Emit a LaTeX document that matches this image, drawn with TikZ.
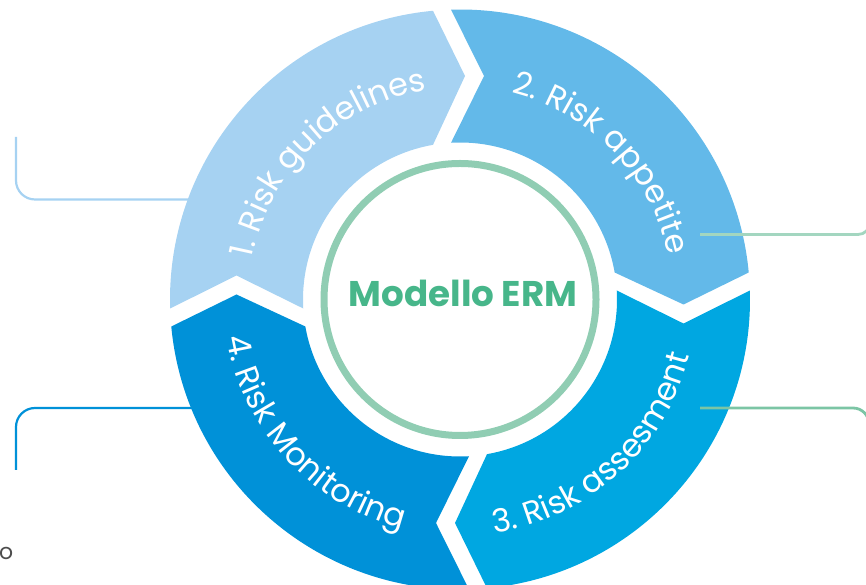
\documentclass[tikz,border=0pt]{standalone}
\usepackage{fontspec}
\setmainfont{Poppins}
\usetikzlibrary{decorations.text}
\definecolor{segA}{HTML}{A6D2F2}
\definecolor{segB}{HTML}{63B9E9}
\definecolor{segC}{HTML}{00A7E1}
\definecolor{segD}{HTML}{0091D8}
\definecolor{ringc}{HTML}{90CDB3}
\definecolor{titlec}{HTML}{47B68A}
\definecolor{lineRa}{HTML}{A3D6C0}
\definecolor{lineRb}{HTML}{7CC5A5}
\definecolor{fragc}{HTML}{4D4D4D}
\newcommand\segfont{\fontsize{32}{34}\selectfont}
\tikzset{
  seg/.pic={
    \path[pic actions] ({180+asin(9/290)}:290)
      arc[start angle={180+asin(9/290)}, end angle={90+asin(27/290)}, radius=290]
      -- (5,223.5) -- ({90+asin(27/157)}:157)
      arc[start angle={90+asin(27/157)}, end angle={180+asin(9/157)}, radius=157]
      -- (-223.5,24) -- cycle;
  },
  connL/.style={line width=2.2, rounded corners=19},
  connR/.style={line width=2.8},
  seglabel/.style={decorate, decoration={text along path, text align=center, text color=white}}
}
\begin{document}
\begin{tikzpicture}[x=1pt,y=1pt]
\useasboundingbox (0,0) rectangle (866,585);
\clip (0,0) rectangle (866,585);
\coordinate (C) at (460,285.5);

% left connectors (under the ring)
\coordinate (l1a) at (200,385.5);
\coordinate (l1b) at (16,448);
\draw[connL, segA] (l1a) -| (l1b);
\coordinate (l4a) at (200,177);
\coordinate (l4b) at (16,115);
\draw[connL, segD] (l4a) -| (l4b);

% ring segments
\pic[fill=segA] at (C) {seg};
\pic[fill=segB, rotate=-90] at (C) {seg};
\pic[fill=segC, rotate=-180] at (C) {seg};
\pic[fill=segD, rotate=-270] at (C) {seg};

% segment labels
\begin{scope}[shift={(C)}]
\path[seglabel, decoration={text={|\segfont|1. Risk guidelines}}]
  (179:212) arc[start angle=179, end angle=89, radius=212];
\path[seglabel, decoration={text={|\segfont|2. Risk appetite}}]
  (89:213) arc[start angle=89, end angle=-1, radius=213];
\path[seglabel, decoration={text={|\segfont|3. Risk assesment}}]
  (-92.75:236) arc[start angle=-92.75, end angle=-2.75, radius=236];
\path[seglabel, decoration={text={|\segfont|4. Risk Monitoring}}]
  (177.5:236) arc[start angle=177.5, end angle=267.5, radius=236];
\end{scope}

% centre
\node[circle, draw=ringc, line width=7, minimum size=272, inner sep=0] (ring) at (C) {};
\node[anchor=base, text=titlec, font=\fontsize{35.7}{40}\selectfont\bfseries] (title) at (463,278) {Modello ERM};

% right connectors
\coordinate (r2a) at (700,350.5);
\coordinate (r2b) at (870,390);
\draw[connR, lineRa, rounded corners=12] (r2a) -| (r2b);
\coordinate (r3a) at (700,177);
\coordinate (r3b) at (869,130);
\draw[connR, lineRb, rounded corners=16] (r3a) -| (r3b);

% clipped text fragment
\node[anchor=base west, inner sep=0, text=fragc, font=\fontsize{22}{24}\selectfont] (frag) at (-1,25) {o};
\end{tikzpicture}
\end{document}
